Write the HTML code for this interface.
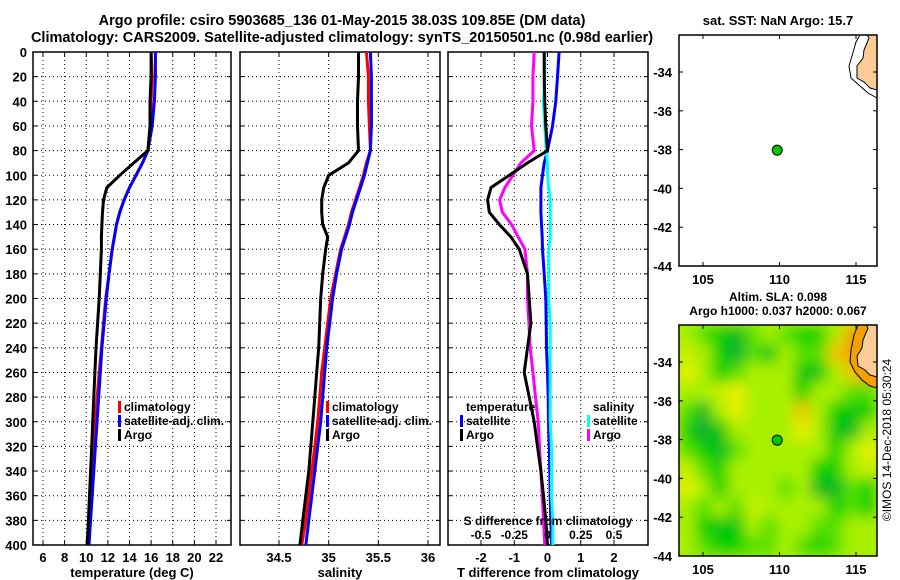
<!DOCTYPE html>
<html><head><meta charset="utf-8"><style>
body{margin:0;background:#fff;}
svg{display:block;font-family:"Liberation Sans",sans-serif;font-weight:bold;}
</style></head><body>
<svg id="fig" width="900" height="580" viewBox="0 0 900 580" xmlns="http://www.w3.org/2000/svg">
<text x="342" y="25" font-size="14.5" text-anchor="middle">Argo profile: csiro 5903685_136 01-May-2015 38.03S 109.85E (DM data)</text>
<text x="342" y="42" font-size="14.5" text-anchor="middle">Climatology: CARS2009. Satellite-adjusted climatology: synTS_20150501.nc (0.98d earlier)</text>
<text x="778" y="25" font-size="13" text-anchor="middle">sat. SST: NaN Argo: 15.7</text>
<text x="778" y="301" font-size="12" text-anchor="middle">Altim. SLA: 0.098</text>
<text x="778" y="315" font-size="12" text-anchor="middle">Argo h1000: 0.037 h2000: 0.067</text>
<text transform="translate(891,440) rotate(-90)" font-size="12" font-weight="normal" text-anchor="middle">©IMOS 14-Dec-2018 05:30:24</text>
<g id="g"></g>
</svg>
<script>
// depths (m)
const depthsA = [0,20,40,60,80,90,100,110,120,130,140,150,160,180,200,220,240,260,280,300,320,340,360,380,400];
// temperature (deg C)
const tempClim = [16.0,16.1,16.0,16.0,15.7,15.2,14.6,14.0,13.5,13.1,12.8,12.6,12.4,12.1,11.8,11.6,11.4,11.2,11.0,10.85,10.7,10.55,10.4,10.25,10.05];
const tempSat  = [16.4,16.4,16.3,16.1,15.7,15.2,14.6,14.0,13.5,13.1,12.8,12.6,12.4,12.1,11.85,11.65,11.45,11.3,11.15,11.0,10.85,10.7,10.55,10.4,10.25];
const tempArgo = [16.0,16.0,15.9,15.9,15.7,14.4,13.1,11.9,11.6,11.5,11.45,11.4,11.4,11.3,11.2,11.05,10.9,10.8,10.7,10.6,10.5,10.4,10.3,10.2,10.1];
// salinity
const salClim = [35.38,35.4,35.4,35.41,35.42,35.38,35.35,35.31,35.27,35.23,35.2,35.16,35.12,35.07,35.02,34.99,34.96,34.93,34.91,34.89,34.86,34.83,34.8,34.77,34.73];
const salSat  = [35.42,35.43,35.43,35.43,35.42,35.39,35.36,35.32,35.28,35.24,35.21,35.17,35.13,35.08,35.04,35.01,34.98,34.96,34.94,34.92,34.89,34.86,34.83,34.8,34.77];
const salArgo = [35.3,35.3,35.29,35.29,35.3,35.2,35.0,34.95,34.93,34.93,34.94,34.99,34.97,34.94,34.92,34.91,34.9,34.88,34.86,34.84,34.82,34.8,34.77,34.74,34.71];
// differences from climatology
const dTsat  = [0.35,0.3,0.25,0.15,0.0,-0.1,-0.15,-0.2,-0.2,-0.2,-0.18,-0.16,-0.15,-0.1,-0.05,-0.04,-0.03,0.0,0.02,0.03,0.05,0.07,0.08,0.1,0.12];
const dTargo = [-0.1,-0.1,-0.08,-0.05,0.0,-0.6,-1.15,-1.7,-1.8,-1.75,-1.45,-1.1,-0.85,-0.6,-0.55,-0.5,-0.6,-0.7,-0.55,-0.4,-0.3,-0.2,-0.12,-0.05,0.0];
const dSsat  = [-0.02,-0.02,-0.03,-0.02,-0.01,0.0,0.0,0.01,0.02,0.02,0.02,0.02,0.01,0.01,0.01,0.02,0.02,0.02,0.02,0.02,0.03,0.03,0.03,0.04,0.04];
const dSargo = [-0.1,-0.11,-0.11,-0.12,-0.1,-0.2,-0.26,-0.32,-0.36,-0.34,-0.27,-0.22,-0.17,-0.15,-0.15,-0.14,-0.13,-0.11,-0.09,-0.07,-0.06,-0.05,-0.04,-0.03,-0.02];
// tick labels
const tempTicks = [6,8,10,12,14,16,18,20,22];
const salTicks = [34.5,35,35.5,36];
const tdTicks = [-2,-1,0,1,2];
const sdTicks = ["-0.5","-0.25","0","0.25","0.5"];
const depthTicks = [0,20,40,60,80,100,120,140,160,180,200,220,240,260,280,300,320,340,360,380,400];
const latTicks = [-34,-36,-38,-40,-42,-44];
const lonTicks = [105,110,115];
// argo position
const argoLon = [109.85];
const argoLat = [-38.03];
// SLA grid (0 dark green .. 4 orange), rows north->south
const slaGrid = [
[2,1.5,1,0.5,1.5,2,1.5,1,1,2,4,4],
[2.5,2,1,0.3,1.5,0.8,2,1.5,1.5,3.5,4,4],
[3,2,1,1.5,2,2,2,0.8,0.8,2,3.5,4],
[2,2,2.5,3,2,2,2,1,2,2,1.5,1.5],
[1.5,0.5,2,3,2,2,2,3.5,2,1,0.8,1],
[1,0.3,0.8,2,2,2,2,3,2,0.8,0.5,2],
[1.5,1,0.5,1.5,2,2,2,2,2,1,2,3],
[2.5,1.5,1,2,2,2,2,2,1,1,2,2.5],
[3,2,1,2,2,2,1.5,2,0.5,0.5,1.5,1],
[2,1.5,2,1.5,2.5,2,2,2,2,1,1.5,1],
[2,1,0.8,0.8,2,1.5,2,2,1.5,1.5,2,2],
[2,1.5,1,1,1.5,1.5,2,1.5,1,1.5,2,2]];

const NS="http://www.w3.org/2000/svg";
const G=document.getElementById('g');
function mk(tag,at,parent){const e=document.createElementNS(NS,tag);for(const k in at)e.setAttribute(k,at[k]);(parent||G).appendChild(e);return e;}
const Y0=52,Y1=545;
const yD=d=>Y0+(d/400)*(Y1-Y0);
function lin(d0,d1,r0,r1){return v=>r0+(v-d0)/(d1-d0)*(r1-r0);}

function panel(name,x0,x1,xs,ticks,labels,xlabel,showY){
  const grp=mk('g',{});
  
  
  depthTicks.forEach(d=>{
    if(d>0&&d<400){const l=mk('line',{x1:x0,x2:x1,y1:yD(d),y2:yD(d),stroke:'#000','stroke-width':1,'stroke-dasharray':'1,3'},grp);
      }
    mk('line',{x1:x0,x2:x0+4,y1:yD(d),y2:yD(d),stroke:'#000'},grp);
    mk('line',{x1:x1-4,x2:x1,y1:yD(d),y2:yD(d),stroke:'#000'},grp);
    if(showY){const t=mk('text',{x:27,y:yD(d)+5,'font-size':13,'text-anchor':'end'},grp);t.textContent=d;
      }
  });
  ticks.forEach((v,i)=>{
    const x=xs(v);
    const l=mk('line',{x1:x,x2:x,y1:Y0,y2:Y1,stroke:'#000','stroke-dasharray':'1,3'},grp);
    
    mk('line',{x1:x,x2:x,y1:Y1-4,y2:Y1,stroke:'#000'},grp);
    mk('line',{x1:x,x2:x,y1:Y0,y2:Y0+4,stroke:'#000'},grp);
    const t=mk('text',{x:x,y:Y1+17,'font-size':13,'text-anchor':'middle'},grp);t.textContent=labels[i];
    
  });
  const r=mk('rect',{x:x0,y:Y0,width:x1-x0,height:Y1-Y0,fill:'none',stroke:'#000','stroke-width':1.5},grp);
  
  const xl=mk('text',{x:(x0+x1)/2,y:Y1+32,'font-size':13,'text-anchor':'middle'},grp);xl.textContent=xlabel;
  
  return grp;
}
function line(grp,vals,xs,color,name){
  const pts=vals.map((v,i)=>xs(v).toFixed(1)+','+yD(depthsA[i]).toFixed(1)).join(' ');
  const p=mk('polyline',{points:pts,fill:'none',stroke:color,'stroke-width':3},grp);
  
}
function legend(grp,x,y,items){
  items.forEach((it,i)=>{
    if(it[1]){mk('rect',{x:x,y:y+i*14-10,width:3,height:12,fill:it[1]},grp);}
    const t=mk('text',{x:x+6,y:y+i*14,'font-size':12},grp);t.textContent=it[0];
    
  });
}
// panel 1
const xT=lin(6,22,43,216);
const p1=panel('temperature-panel',33,231,xT,tempTicks,tempTicks,'temperature (deg C)',true);
line(p1,tempClim,xT,'#f00','temp-climatology-line');
line(p1,tempSat,xT,'#00f','temp-satellite-line');
line(p1,tempArgo,xT,'#000','temp-argo-line');
legend(p1,118,411,[['climatology','#f00'],['satellite-adj. clim.','#00f'],['Argo','#000']]);
// panel 2
const xS=lin(34.5,36,279,428);
const p2=panel('salinity-panel',240,440,xS,salTicks,salTicks,'salinity',false);
line(p2,salClim,xS,'#f00','sal-climatology-line');
line(p2,salSat,xS,'#00f','sal-satellite-line');
line(p2,salArgo,xS,'#000','sal-argo-line');
legend(p2,326,411,[['climatology','#f00'],['satellite-adj. clim.','#00f'],['Argo','#000']]);
// panel 3
const xTd=lin(-2,2,481,614);
const xSd=v=>xTd(v*4);
const p3=panel('difference-panel',448,648,xTd,tdTicks,tdTicks,'T difference from climatology',false);
line(p3,dTsat,xTd,'#00f','dt-satellite-line');
line(p3,dSsat,xSd,'#0ff','ds-satellite-line');
line(p3,dSargo,xSd,'#f0f','ds-argo-line');
line(p3,dTargo,xTd,'#000','dt-argo-line');
legend(p3,460,411,[['temperature',null],['satellite','#00f'],['Argo','#000']]);
legend(p3,587,411,[['salinity',null],['satellite','#0ff'],['Argo','#f0f']]);
{const t=mk('text',{x:548,y:525,'font-size':12,'text-anchor':'middle'},p3);t.textContent='S difference from climatology';
 
 sdTicks.forEach(s=>{const tt=mk('text',{x:xSd(parseFloat(s)),y:539,'font-size':12,'text-anchor':'middle'},p3);tt.textContent=s;
  });}

// maps
const xLon=lin(105,115,703,856);
function map(name,top,bottom,fill){
  const grp=mk('g',{});
  
  const yLat=lin(-34,-44,bottom-(bottom-top)*(10/ (10+ (top===35?2.0:1.9)))  ,bottom);
  return {grp,yLat};
}
function mapAxes(grp,top,bottom,yLat){
  latTicks.forEach(v=>{const y=yLat(v);
    mk('line',{x1:679,x2:683,y1:y,y2:y,stroke:'#000'},grp);mk('line',{x1:873,x2:877,y1:y,y2:y,stroke:'#000'},grp);
    const t=mk('text',{x:672,y:y+5,'font-size':13,'text-anchor':'end'},grp);t.textContent=v;
    });
  lonTicks.forEach(v=>{const x=xLon(v);
    mk('line',{x1:x,x2:x,y1:top,y2:top+4,stroke:'#000'},grp);mk('line',{x1:x,x2:x,y1:bottom-4,y2:bottom,stroke:'#000'},grp);
    const t=mk('text',{x:x,y:bottom+18,'font-size':13,'text-anchor':'middle'},grp);t.textContent=v;
    });
  const r=mk('rect',{x:679,y:top,width:198,height:bottom-top,fill:'none',stroke:'#000','stroke-width':1.5},grp);
  
}
// map 1 (SST)
{const top=35,bottom=266;const yLat=lin(-34,-44,72,bottom);
 const grp=mk('g',{});
 mk('rect',{x:679,y:top,width:198,height:bottom-top,fill:'#fff'},grp);
 const c=mk('path',{d:'M860,35 L856,42 L852,56 L849,66 L851,78 L860,86 L868,93 L877,98',fill:'none',stroke:'#000','stroke-width':1},grp);
 
 const l=mk('path',{d:'M867,35 L869,38 L864,50 L863,58 L857,66 L857,78 L864,82 L870,88 L877,90 L877,35 Z',fill:'#fccc96',stroke:'#000','stroke-width':1},grp);
 
 const d=mk('circle',{cx:xLon(argoLon[0]),cy:yLat(argoLat[0]),r:5,fill:'#00c800',stroke:'#000'},grp);
 
 mapAxes(grp,top,bottom,yLat);}
// map 2 (SLA)
{const top=325,bottom=556;const yLat=lin(-34,-44,362,bottom);
 const grp=mk('g',{});
 const defs=mk('defs',{},grp);
 const f=mk('filter',{id:'bl',x:'-10%',y:'-10%',width:'120%',height:'120%'},defs);mk('feGaussianBlur',{stdDeviation:7},f);
 const cp=mk('clipPath',{id:'cp'},defs);mk('rect',{x:679,y:top,width:198,height:bottom-top},cp);
 const cg=mk('g',{'clip-path':'url(#cp)'},grp);
 const hg=mk('g',{filter:'url(#bl)'},cg);
 const cols=['#12a040','#00d000','#a8f000','#e8f000','#f4a000'];
 function col(v){const i=Math.min(3,Math.floor(v));const t=v-i;
   const a=cols[i],b=cols[i+1];const h=s=>[1,3,5].map(k=>parseInt(s.substr(k,2),16));
   const A=h(a),B=h(b);return 'rgb('+A.map((x,k)=>Math.round(x+(B[k]-x)*t)).join(',')+')';}
 const nr=slaGrid.length,nc=slaGrid[0].length,cw=198/nc,ch=(bottom-top)/nr;
 mk('rect',{x:660,y:300,width:240,height:280,fill:col(2)},hg);
 slaGrid.forEach((row,r)=>row.forEach((v,c)=>{
   const cell=mk('rect',{x:679+c*cw-0.5,y:top+r*ch-0.5,width:cw+1,height:ch+1,fill:col(v)},hg);
   }));
 const o=mk('path',{d:'M858,325 L854,335 L851,350 L850,362 L855,372 L862,380 L870,386 L877,388 L877,325 Z',fill:'#f4a000',stroke:'#000','stroke-width':1},cg);
 
 const l=mk('path',{d:'M866,325 L868,328 L863,340 L862,348 L857,356 L858,366 L865,370 L870,375 L877,377 L877,325 Z',fill:'#fccc96',stroke:'#000','stroke-width':1},cg);
 
 const d=mk('circle',{cx:xLon(argoLon[0]),cy:yLat(argoLat[0]),r:5,fill:'#00c800',stroke:'#000'},grp);
 
 mapAxes(grp,top,bottom,yLat);}
</script>
</body></html>
